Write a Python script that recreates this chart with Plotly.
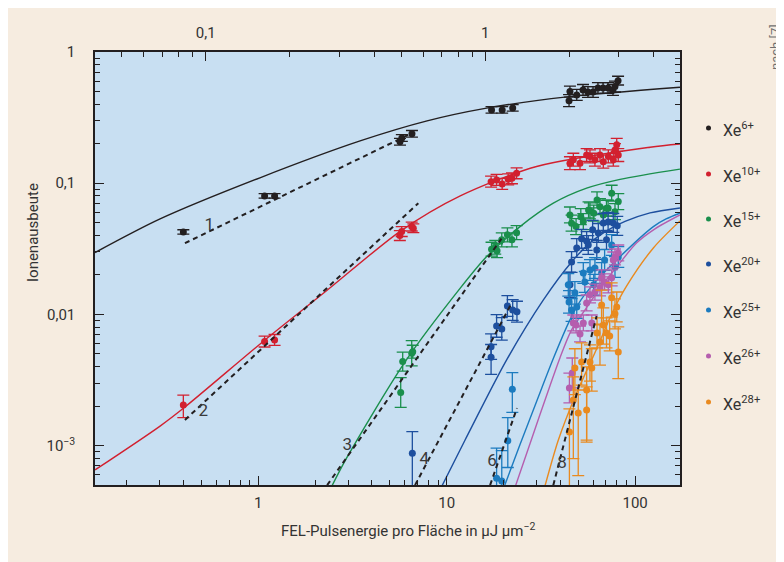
import plotly.graph_objects as go

# ---------------- data ----------------
series_names = ["Xe<sup>6+</sup>", "Xe<sup>10+</sup>", "Xe<sup>15+</sup>", "Xe<sup>20+</sup>",
                "Xe<sup>25+</sup>", "Xe<sup>26+</sup>", "Xe<sup>28+</sup>"]

# measured points (x: µJ/µm², y: ion yield); *_eu / *_ed: multiplicative error-bar factors (up / down)
xe6_x = [0.40, 1.08, 1.22, 5.65, 5.78, 6.54, 17.3, 19.7, 22.4, 44.6, 45.1, 49.0, 52.9, 56.2, 59.8, 63.5, 67.6, 71.8, 76.3, 78.2, 81.2]
xe6_y = [0.0425, 0.080, 0.080, 0.207, 0.221, 0.238, 0.362, 0.362, 0.375, 0.426, 0.499, 0.471, 0.514, 0.496, 0.496, 0.532, 0.532, 0.532, 0.514, 0.545, 0.605]
xe6_eu = [1.04, 1.04, 1.04, 1.06, 1.06, 1.06, 1.06, 1.06, 1.06, 1.11, 1.10, 1.10, 1.10, 1.10, 1.10, 1.10, 1.10, 1.10, 1.10, 1.10, 1.08]
xe6_ed = [1.04, 1.04, 1.04, 1.06, 1.06, 1.06, 1.06, 1.06, 1.06, 1.11, 1.10, 1.10, 1.10, 1.10, 1.10, 1.10, 1.10, 1.10, 1.10, 1.10, 1.08]

xe10_x = [0.40, 1.08, 1.22, 5.64, 5.77, 6.52, 6.65, 17.2, 18.4, 19.7, 21.2, 22.2, 23.5, 45.1, 47.0, 51.0, 55.3, 57.6, 61.2, 65.1, 67.8, 72.1, 76.6, 78.2, 79.9, 81.4]
xe10_y = [0.00204, 0.00621, 0.00639, 0.0399, 0.0428, 0.0467, 0.0454, 0.1028, 0.106, 0.0988, 0.107, 0.109, 0.119, 0.142, 0.151, 0.142, 0.164, 0.160, 0.151, 0.164, 0.146, 0.160, 0.151, 0.179, 0.196, 0.164]
xe10_eu = [1.19, 1.10, 1.10, 1.09, 1.09, 1.08, 1.08, 1.10, 1.10, 1.10, 1.10, 1.10, 1.10, 1.12, 1.12, 1.12, 1.12, 1.12, 1.12, 1.12, 1.12, 1.12, 1.12, 1.12, 1.12, 1.12]
xe10_ed = [1.25, 1.10, 1.10, 1.09, 1.09, 1.08, 1.08, 1.10, 1.10, 1.10, 1.10, 1.10, 1.10, 1.12, 1.12, 1.12, 1.12, 1.12, 1.12, 1.12, 1.12, 1.12, 1.12, 1.12, 1.12, 1.12]

xe15_x = [5.70, 5.84, 6.52, 6.60, 17.3, 18.1, 18.5, 19.6, 21.0, 22.2, 23.5, 45.1, 46.0, 48.6, 51.5, 53.1, 56.6, 57.6, 60.3, 62.8, 65.1, 67.8, 70.5, 71.9, 75.1, 78.2, 81.4]
xe15_y = [0.00254, 0.00437, 0.00506, 0.0052, 0.0314, 0.0325, 0.0306, 0.0370, 0.0404, 0.0370, 0.042, 0.0573, 0.0496, 0.0467, 0.0556, 0.0510, 0.0626, 0.0616, 0.0591, 0.0746, 0.0663, 0.0573, 0.0645, 0.0645, 0.0839, 0.0607, 0.0724]
xe15_eu = [1.30, 1.18, 1.25, 1.12, 1.13, 1.13, 1.13, 1.13, 1.13, 1.13, 1.13, 1.15, 1.15, 1.15, 1.15, 1.15, 1.15, 1.15, 1.15, 1.15, 1.15, 1.15, 1.15, 1.15, 1.15, 1.15, 1.15]
xe15_ed = [1.30, 1.18, 1.25, 1.12, 1.13, 1.13, 1.13, 1.13, 1.13, 1.13, 1.13, 1.15, 1.15, 1.15, 1.15, 1.15, 1.15, 1.15, 1.15, 1.15, 1.15, 1.15, 1.15, 1.15, 1.15, 1.15, 1.15]

xe20_x = [6.57, 17.2, 17.2, 18.4, 19.6, 21.0, 22.4, 23.6, 45.1, 46.0, 49.0, 52.0, 55.3, 56.4, 59.5, 62.6, 63.8, 67.8, 70.5, 71.9, 76.6, 80.4]
xe20_y = [8.75e-4, 5.68e-3, 4.72e-3, 8.17e-3, 7.76e-3, 0.0116, 0.0108, 0.0105, 0.0168, 0.0251, 0.0321, 0.0377, 0.0363, 0.0338, 0.0441, 0.0310, 0.0418, 0.0498, 0.0370, 0.0507, 0.0498, 0.0473]
xe20_eu = [1.46, 1.25, 1.25, 1.22, 1.22, 1.20, 1.20, 1.20, 1.25, 1.20, 1.18, 1.18, 1.18, 1.18, 1.18, 1.18, 1.18, 1.18, 1.18, 1.18, 1.18, 1.18]
xe20_ed = [2.50, 1.25, 1.35, 1.22, 1.22, 1.20, 1.20, 1.20, 1.25, 1.20, 1.18, 1.18, 1.18, 1.18, 1.18, 1.18, 1.18, 1.18, 1.18, 1.18, 1.18, 1.18]

xe25_x = [18.4, 19.6, 21.1, 22.3, 44.2, 44.6, 46.0, 47.9, 49.0, 53.1, 54.1, 57.6, 60.3, 61.2, 66.4, 68.9, 75.1, 78.2, 81.4]
xe25_y = [5.64e-4, 5.38e-4, 1.09e-3, 2.69e-3, 0.0168, 0.01246, 0.0108, 0.0146, 0.0114, 0.0207, 0.0177, 0.0218, 0.0168, 0.0226, 0.0207, 0.0260, 0.0338, 0.0230, 0.0274]
xe25_eu = [1.70, 1.70, 1.50, 1.34, 1.22, 1.22, 1.22, 1.22, 1.22, 1.20, 1.20, 1.20, 1.20, 1.20, 1.20, 1.20, 1.20, 1.20, 1.20]
xe25_ed = [1.30, 1.30, 1.60, 1.50, 1.22, 1.22, 1.22, 1.22, 1.22, 1.20, 1.20, 1.20, 1.20, 1.20, 1.20, 1.20, 1.20, 1.20, 1.20]

xe26_x = [44.8, 46.4, 47.0, 48.6, 51.0, 53.1, 55.3, 57.6, 58.9, 61.2, 65.1, 66.4, 68.9, 72.1, 75.1, 76.6, 78.2, 81.4]
xe26_y = [2.75e-3, 3.58e-3, 8.61e-3, 8.31e-3, 7.10e-3, 8.61e-3, 0.01223, 0.0141, 0.00861, 0.0148, 0.0159, 0.0190, 0.0177, 0.0168, 0.0190, 0.0260, 0.0274, 0.0294]
xe26_eu = [1.30, 1.30, 1.15, 1.15, 1.15, 1.15, 1.15, 1.15, 1.15, 1.15, 1.15, 1.15, 1.15, 1.15, 1.15, 1.15, 1.15, 1.15]
xe26_ed = [1.30, 1.30, 1.15, 1.15, 1.15, 1.15, 1.15, 1.15, 1.15, 1.15, 1.15, 1.15, 1.15, 1.15, 1.15, 1.15, 1.15, 1.15]

xe28_x = [44.8, 47.0, 47.9, 49.9, 52.0, 55.3, 55.3, 57.6, 58.9, 62.8, 65.1, 66.4, 67.8, 70.5, 73.3, 75.1, 78.2, 79.9, 81.4]
xe28_y = [1.27e-3, 2.23e-3, 3.91e-3, 1.77e-3, 4.34e-3, 2.66e-3, 1.87e-3, 4.34e-3, 3.91e-3, 7.23e-3, 6.17e-3, 0.0118, 8.31e-3, 7.23e-3, 6.86e-3, 0.01337, 0.0101, 0.0114, 5.18e-3]
xe28_eu = [1.50, 1.50, 1.40, 1.50, 1.40, 1.50, 1.50, 1.35, 1.40, 1.30, 1.35, 1.30, 1.35, 1.30, 1.30, 1.30, 1.30, 1.30, 1.55]
xe28_ed = [3.00, 2.80, 1.60, 3.00, 1.50, 2.50, 1.70, 1.40, 1.50, 1.30, 1.50, 1.40, 1.40, 1.30, 1.30, 1.40, 1.30, 1.30, 1.60]

# theoretical curves
xe6_cx = [0.136, 0.301, 1.02, 3.47, 7.87, 16.0, 43.5, 173]
xe6_cy = [0.0296, 0.0534, 0.110, 0.210, 0.2985, 0.3716, 0.455, 0.539]
xe10_cx = [0.136, 0.301, 0.408, 1.085, 2.31, 5.64, 11.8, 30.0, 120, 173]
xe10_cy = [6.53e-4, 1.41e-3, 1.97e-3, 6.39e-3, 0.0152, 0.0428, 0.080, 0.134, 0.188, 0.199]
xe15_cx = [2.40, 2.94, 6.01, 11.8, 16.3, 24.5, 36.8, 55.3, 83.2, 173]
xe15_cy = [4.6e-4, 8.02e-4, 4.35e-3, 0.01585, 0.0276, 0.0467, 0.0704, 0.0916, 0.107, 0.128]
xe20_cx = [9.21, 12.5, 20.8, 32.6, 46.0, 57.6, 70.5, 88.4, 120, 173]
xe20_cy = [4.6e-4, 1.10e-3, 4.50e-3, 0.0129, 0.0251, 0.0351, 0.0433, 0.0511, 0.0594, 0.0648]
xe25_cx = [19.9, 24.5, 30.0, 36.8, 45.1, 51.6, 60.3, 83.2, 125, 146, 173]
xe25_cy = [4.6e-4, 1.02e-3, 2.17e-3, 4.61e-3, 9.08e-3, 0.0129, 0.0171, 0.0276, 0.0467, 0.0534, 0.0591]
xe26_cx = [22.8, 27.7, 35.3, 39.9, 46.0, 55.6, 65.1, 79.9, 102, 127.5, 173]
xe26_cy = [4.6e-4, 1.04e-3, 2.85e-3, 4.66e-3, 7.62e-3, 0.0114, 0.0159, 0.0230, 0.0351, 0.0449, 0.0573]
xe28_cx = [32.8, 39.1, 47.9, 62.8, 75.1, 90.2, 125, 173]
xe28_cy = [4.6e-4, 1.10e-3, 2.35e-3, 5.55e-3, 0.0101, 0.0165, 0.0321, 0.0516]

# dashed power-law guide lines (start, end) and their labels
guide_labels = ["1", "2", "3", "4", "6", "8"]
guide_x0 = [0.408, 0.408, 2.32, 6.79, 17.0, 36.8]
guide_y0 = [0.0349, 1.57e-3, 5.0e-4, 5.0e-4, 5.0e-4, 5.0e-4]
guide_x1 = [6.25, 7.07, 19.6, 22.1, 23.6, 62.5]
guide_y1 = [0.2335, 0.0704, 0.0381, 0.01217, 1.93e-3, 9.74e-3]
guide_label_x = [0.55, 0.51, 2.97, 7.6, 17.4, 41.0]
guide_label_y = [0.047, 1.80e-3, 9.9e-4, 7.8e-4, 7.6e-4, 7.3e-4]

# axis ticks
x_tickvals = [1, 10, 100]
x_ticktext = ["1", "10", "100"]
x2_tickvals = [0.1, 1]
x2_ticktext = ["0,1", "1"]
y_tickvals = [1e-3, 0.01, 0.1, 1]
y_ticktext = ["10<sup>−3</sup>", "0,01", "0,1", "1"]

# ---------------- styling ----------------
colors = ["#231f20", "#d2202f", "#1a8f4c", "#1d4f9e", "#1c7bbf", "#b55eae", "#e98a1f"]
FONT = "Roboto, sans-serif"
TXT = "#333333"
AX = "#231f20"

pts = [(xe6_x, xe6_y, xe6_eu, xe6_ed), (xe10_x, xe10_y, xe10_eu, xe10_ed),
       (xe15_x, xe15_y, xe15_eu, xe15_ed), (xe20_x, xe20_y, xe20_eu, xe20_ed),
       (xe25_x, xe25_y, xe25_eu, xe25_ed), (xe26_x, xe26_y, xe26_eu, xe26_ed),
       (xe28_x, xe28_y, xe28_eu, xe28_ed)]
curves = [(xe6_cx, xe6_cy), (xe10_cx, xe10_cy), (xe15_cx, xe15_cy), (xe20_cx, xe20_cy),
          (xe25_cx, xe25_cy), (xe26_cx, xe26_cy), (xe28_cx, xe28_cy)]

fig = go.Figure()

# solid curves
for (cx, cy), c in zip(curves, colors):
    fig.add_trace(go.Scatter(x=cx, y=cy, mode="lines",
                             line=dict(color=c, width=1.4, shape="spline", smoothing=0.8),
                             showlegend=False, hoverinfo="skip"))

# data points with error bars
for (x, y, eu, ed), c, name in zip(pts, colors, series_names):
    plus = [v * (f - 1) for v, f in zip(y, eu)]
    minus = [v * (1 - 1 / f) for v, f in zip(y, ed)]
    fig.add_trace(go.Scatter(x=x, y=y, mode="markers", name=name,
                             marker=dict(color=c, size=7),
                             error_y=dict(type="data", array=plus, arrayminus=minus, symmetric=False,
                                          color=c, thickness=1.3, width=6),
                             showlegend=False))

# dashed guides
for x0, y0, x1, y1 in zip(guide_x0, guide_y0, guide_x1, guide_y1):
    fig.add_trace(go.Scatter(x=[x0, x1], y=[y0, y1], mode="lines",
                             line=dict(color="#231f20", width=2, dash="5px,4px"),
                             showlegend=False, hoverinfo="skip"))

# guide labels
fig.add_trace(go.Scatter(x=guide_label_x, y=guide_label_y, mode="text", text=guide_labels,
                         textfont=dict(family=FONT, size=17, color="#3a3a3a"),
                         showlegend=False, hoverinfo="skip"))

# dummy trace to activate top axis
fig.add_trace(go.Scatter(x=[None], y=[None], xaxis="x2", yaxis="y", showlegend=False, hoverinfo="skip"))

# ---------------- layout ----------------
# the page body adds an 8px offset; figure is sized so the plot area lands at
# page pixels x 95..680, y 52..485
OFF = 8
W, H = 784 - OFF, 562 - OFF
L, T = 95 - OFF, 52 - OFF
PW, PH = 585, 433
R = W - L - PW
B = H - T - PH


def px(xp):
    return (xp - 95) / PW


def py(yp):
    return (485 - yp) / PH


def minor_log(decades, lo, hi):
    out = []
    for d in decades:
        for m in range(2, 10):
            v = m * 10.0 ** d
            if lo <= v <= hi:
                out.append(v)
    return out


x_range = [-0.8668, 2.2383]
x2_range = [-1.396, 0.6965]
y_range = [-3.30, 0.0]

axis_common = dict(type="log", showgrid=False, zeroline=False, showline=True, linecolor=AX, linewidth=1.5,
                   ticks="inside", tickcolor=AX, tickwidth=1.3, ticklen=9,
                   tickfont=dict(family=FONT, size=15, color=TXT))

fig.update_layout(
    width=W, height=H,
    margin=dict(l=L, r=R, t=T, b=B, pad=0),
    paper_bgcolor="#f6ece0",
    plot_bgcolor="#c8dff2",
    showlegend=False,
    xaxis=dict(**axis_common, range=x_range, tickmode="array", tickvals=x_tickvals, ticktext=x_ticktext,
               mirror=False, ticklabelstandoff=3,
               minor=dict(tickmode="array", tickvals=minor_log([-1, 0, 1, 2], 0.13, 180), ticks="inside",
                          ticklen=5, tickcolor=AX, tickwidth=1.2)),
    xaxis2=dict(**axis_common, range=x2_range, overlaying="x", side="top", tickmode="array",
                tickvals=x2_tickvals, ticktext=x2_ticktext, ticklabelstandoff=6,
                minor=dict(tickmode="array", tickvals=minor_log([-2, -1, 0], 0.04, 5), ticks="inside",
                           ticklen=5, tickcolor=AX, tickwidth=1.2)),
    yaxis=dict(**axis_common, range=y_range, tickmode="array", tickvals=y_tickvals, ticktext=y_ticktext,
               mirror="ticks", ticklabelstandoff=15,
               minor=dict(tickmode="array", tickvals=minor_log([-4, -3, -2, -1], 5.2e-4, 1), ticks="inside",
                          ticklen=5, tickcolor=AX, tickwidth=1.2)),
)

annotations = []
shapes = []

# axis titles and source note
annotations.append(dict(xref="paper", yref="paper", x=px(408), y=py(530), showarrow=False,
                        text="FEL-Pulsenergie pro Fläche in µJ µm<sup>−2</sup>",
                        font=dict(family=FONT, size=15, color=TXT), xanchor="center", yanchor="middle"))
annotations.append(dict(xref="paper", yref="paper", x=px(33), y=py(233), showarrow=False, textangle=-90,
                        text="Ionenausbeute", font=dict(family=FONT, size=15, color=TXT),
                        xanchor="center", yanchor="middle"))
annotations.append(dict(xref="paper", yref="paper", x=px(775), y=py(47), showarrow=False, textangle=-90,
                        text="nach [7]", font=dict(family=FONT, size=13, color="#707070"),
                        xanchor="center", yanchor="middle"))

# custom legend
legend_rows = [128, 174, 219, 264, 310, 356, 402]
for name, c, ry in zip(series_names, colors, legend_rows):
    shapes.append(dict(type="circle", xref="paper", yref="paper",
                       x0=px(706), x1=px(711), y0=py(ry + 2.5), y1=py(ry - 2.5),
                       fillcolor=c, line=dict(width=0)))
    annotations.append(dict(xref="paper", yref="paper", x=px(721), y=py(ry + 1), showarrow=False,
                            text=name, font=dict(family=FONT, size=16, color=TXT),
                            xanchor="left", yanchor="middle"))

fig.update_layout(annotations=annotations, shapes=shapes)

fig.write_html("out.html")
